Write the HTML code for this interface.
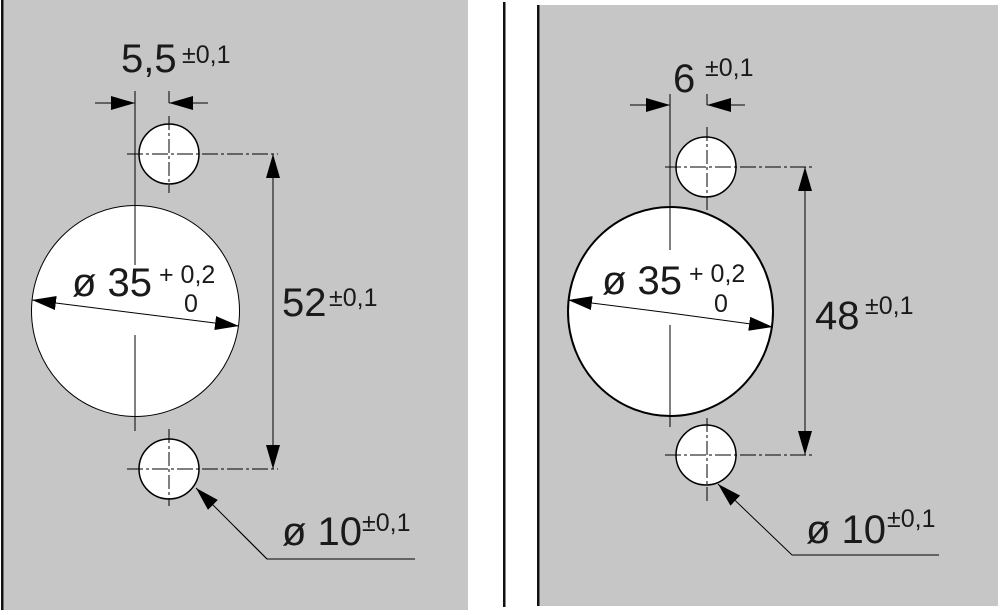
<!DOCTYPE html>
<html><head><meta charset="utf-8"><style>
html,body{margin:0;padding:0;background:#fff}
svg{display:block}
text{font-family:"Liberation Sans",sans-serif;fill:#1a1a1a}
</style></head><body>
<svg width="1000" height="615" viewBox="0 0 1000 615" xmlns="http://www.w3.org/2000/svg">
<defs>
<marker id="a" markerUnits="userSpaceOnUse" markerWidth="26" markerHeight="16" refX="24" refY="7" orient="auto"><path d="M0,0 L24,7 L0,14 Z" fill="#000"/></marker>
</defs>
<!-- left panel -->
<rect x="2" y="0" width="466" height="610" fill="#c6c6c6"/>
<rect x="1" y="0" width="2.5" height="610" fill="#111"/>
<!-- right panel -->
<rect x="538" y="5" width="460" height="601" fill="#c6c6c6"/>
<rect x="503" y="2" width="2.5" height="605" fill="#111"/>
<rect x="537" y="5" width="2.5" height="601" fill="#111"/>

<g stroke="#000" fill="none" stroke-width="1">
<!-- LEFT -->
<ellipse cx="135.5" cy="311" rx="104" ry="105.5" fill="#fff" stroke-width="1"/>
<ellipse cx="169" cy="154" rx="30" ry="30" fill="#fff" stroke-width="1.5"/>
<ellipse cx="169" cy="469" rx="30" ry="30" fill="#fff" stroke-width="1.5"/>
<line x1="135" y1="91" x2="135" y2="265"/>
<line x1="135" y1="335" x2="135" y2="431"/>
<line x1="169" y1="91" x2="169" y2="103"/>
<line x1="169" y1="116" x2="169" y2="193" stroke-dasharray="14,3,3,3"/>
<line x1="169" y1="429" x2="169" y2="506" stroke-dasharray="14,3,3,3"/>
<line x1="127" y1="154" x2="278" y2="154" stroke-dasharray="16,3,3,3"/>
<line x1="127" y1="469" x2="278" y2="469" stroke-dasharray="16,3,3,3"/>
<line x1="95" y1="103" x2="135" y2="103" marker-end="url(#a)"/>
<line x1="208" y1="103" x2="169" y2="103" marker-end="url(#a)"/>
<line x1="273" y1="300" x2="273" y2="154" marker-end="url(#a)"/>
<line x1="273" y1="300" x2="273" y2="469" marker-end="url(#a)"/>
<line x1="135" y1="313" x2="32" y2="300" marker-end="url(#a)"/>
<line x1="135" y1="313" x2="239" y2="326" marker-end="url(#a)"/>
<polyline points="415,559 267,559 235,527"/>
<line x1="267" y1="559" x2="196" y2="488" marker-end="url(#a)"/>

<!-- RIGHT -->
<ellipse cx="670.5" cy="311.5" rx="102.5" ry="104.5" fill="#fff" stroke-width="2"/>
<ellipse cx="706" cy="167" rx="30" ry="30" fill="#fff" stroke-width="1.5"/>
<ellipse cx="706" cy="455" rx="30" ry="30" fill="#fff" stroke-width="1.5"/>
<line x1="670" y1="94" x2="670" y2="250"/>
<line x1="670" y1="325" x2="670" y2="427"/>
<line x1="707" y1="94" x2="707" y2="105"/>
<line x1="707" y1="127" x2="707" y2="212" stroke-dasharray="14,3,3,3"/>
<line x1="707" y1="418" x2="707" y2="502" stroke-dasharray="14,3,3,3"/>
<line x1="665" y1="167" x2="812" y2="167" stroke-dasharray="16,3,3,3"/>
<line x1="665" y1="455" x2="812" y2="455" stroke-dasharray="16,3,3,3"/>
<line x1="630" y1="105" x2="670" y2="105" marker-end="url(#a)"/>
<line x1="745" y1="105" x2="707" y2="105" marker-end="url(#a)"/>
<line x1="805" y1="310" x2="805" y2="167" marker-end="url(#a)"/>
<line x1="805" y1="310" x2="805" y2="455" marker-end="url(#a)"/>
<line x1="670" y1="313" x2="568" y2="300" marker-end="url(#a)"/>
<line x1="670" y1="313" x2="773" y2="327" marker-end="url(#a)"/>
<line x1="939" y1="555" x2="792" y2="555"/>
<line x1="792" y1="555" x2="718" y2="484" marker-end="url(#a)"/>
</g>

<!-- LEFT text -->
<text x="121" y="72" font-size="40">5,5</text>
<text x="182" y="63" font-size="25">±0,1</text>
<text x="72" y="296" font-size="40">ø 35</text>
<text x="159" y="283" font-size="25">+ 0,2</text>
<text x="184" y="312" font-size="25">0</text>
<text x="282" y="316" font-size="40">52</text>
<text x="329" y="306" font-size="25">±0,1</text>
<text x="282" y="545" font-size="40">ø 10</text>
<text x="362" y="531" font-size="25">±0,1</text>

<!-- RIGHT text -->
<text x="673" y="92" font-size="40">6</text>
<text x="705" y="76" font-size="25">±0,1</text>
<text x="602" y="294" font-size="40">ø 35</text>
<text x="689" y="282" font-size="25">+ 0,2</text>
<text x="714" y="312" font-size="25">0</text>
<text x="815" y="329" font-size="40">48</text>
<text x="865" y="314" font-size="25">±0,1</text>
<text x="806" y="543" font-size="40">ø 10</text>
<text x="887" y="527" font-size="25">±0,1</text>
</svg>
</body></html>
